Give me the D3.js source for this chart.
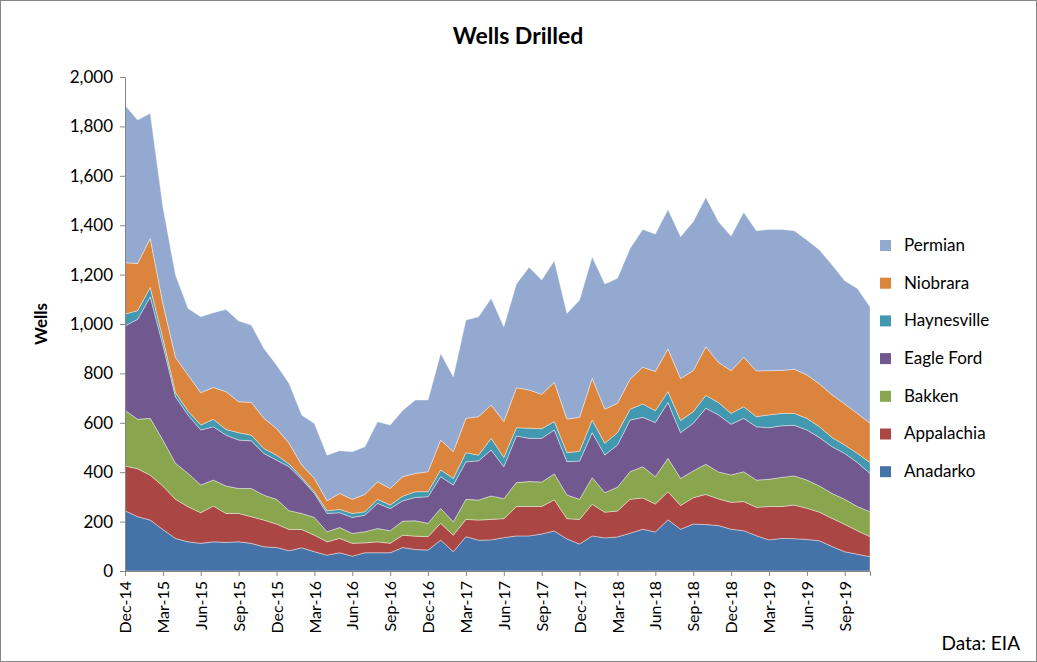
<!DOCTYPE html>
<html>
<head>
<meta charset="utf-8">
<script src="https://cdn.jsdelivr.net/npm/d3@7"></script>
<style>
  body { margin: 0; background: #fff; }
  text { font-family: Lato, "Open Sans", sans-serif; fill: #000; }
</style>
</head>
<body>
<div id="chart"></div>
<script>
'use strict';

// monthly, Dec-14 .. Nov-19
var months = [];
(function() {
  var names = ['Jan','Feb','Mar','Apr','May','Jun','Jul','Aug','Sep','Oct','Nov','Dec'];
  for (var i = 0; i < 60; i++) {
    var m = (11 + i) % 12, yr = 14 + Math.floor((11 + i) / 12);
    months.push(names[m] + '-' + yr);
  }
})();

var regions = ['Anadarko', 'Appalachia', 'Bakken', 'Eagle Ford', 'Haynesville', 'Niobrara', 'Permian'];
var colors = ['#4572A7', '#AA4643', '#89A54E', '#71588F', '#4198AF', '#DB843D', '#93A9CF'];

var anadarko = [244,220,206,168,132,118,112,118,116,118,112,98,95,82,94,78,64,74,60,74,74,74,95,87,85,125,78,139,125,
  126,135,142,142,150,162,130,109,142,134,138,153,169,158,207,169,190,188,184,169,163,143,126,132,131,128,122,99,78,68,58];
var appalachia = [181,194,182,176,158,142,124,145,117,115,108,108,95,86,74,67,54,58,52,40,44,38,50,54,54,68,67,70,81,
  83,77,119,119,111,126,82,100,128,104,105,137,127,113,114,96,107,122,108,109,118,115,135,129,136,126,116,114,111,95,81];
var bakken = [226,200,230,186,146,135,112,105,111,101,114,101,100,76,65,72,41,44,40,45,54,51,57,62,54,60,54,81,81,
  95,81,97,101,99,105,96,81,108,79,96,112,126,111,135,110,108,122,109,111,121,110,110,118,118,114,106,101,101,98,101];
var eagleFord = [341,405,492,385,269,236,223,216,206,196,193,169,159,178,138,97,74,60,65,67,102,90,82,95,108,129,149,152,159,
  186,129,189,175,177,178,135,155,182,153,171,209,200,219,226,185,193,227,231,205,216,216,209,209,205,203,196,189,186,178,155];
var haynesville = [48,35,38,27,17,16,20,30,23,30,23,20,20,11,8,7,11,13,16,14,16,14,19,23,20,27,27,37,23,
  47,38,33,41,39,34,36,40,51,47,50,44,54,48,44,49,47,52,50,44,47,41,52,50,48,47,44,37,34,37,44];
var niobrara = [208,191,198,141,143,146,131,129,153,125,133,122,108,84,50,54,40,65,57,70,71,67,79,74,81,121,108,139,156,
  135,145,162,155,139,159,136,137,169,138,119,121,149,159,173,170,166,197,162,173,200,185,179,174,179,176,173,173,166,162,159];
var permian = [638,581,507,392,333,270,307,303,333,327,313,283,257,242,202,222,185,173,193,193,243,257,269,297,290,351,303,398,404,
  432,384,420,497,463,492,428,475,492,507,506,530,558,556,565,574,603,605,570,545,587,568,572,571,561,546,543,526,499,506,472];

var yTicks = [0, 200, 400, 600, 800, 1000, 1200, 1400, 1600, 1800, 2000];

(function() {
  var series = [anadarko, appalachia, bakken, eagleFord, haynesville, niobrara, permian];
  var table = months.map(function(m, i) {
    var row = { month: m, i: i };
    regions.forEach(function(r, k) { row[r] = series[k][i]; });
    return row;
  });

  var W = 1037, H = 662;
  var left = 125, right = 870, plotTop = 77, bottom = 571;

  var svg = d3.select('#chart').append('svg').attr('width', W).attr('height', H);
  svg.append('rect').attr('x', 0.5).attr('y', 0.5).attr('width', W - 1).attr('height', H - 1)
    .style('fill', '#fff').style('stroke', '#868686');

  var x = d3.scaleLinear().domain([0, months.length - 1]).range([left, right]);
  var y = d3.scaleLinear().domain([0, 2000]).range([bottom, plotTop]);

  var stacked = d3.stack().keys(regions)(table);
  var area = d3.area()
    .x(function(d) { return x(d.data.i); })
    .y0(function(d) { return y(d[0]); })
    .y1(function(d) { return y(d[1]); });

  svg.selectAll('path.layer').data(stacked).enter().append('path')
    .attr('class', 'layer')
    .attr('d', area)
    .style('fill', function(d, k) { return colors[k]; })
    .style('stroke', '#fff').style('stroke-width', 0.4);

  // y axis
  var yAxis = svg.append('g').attr('transform', 'translate(' + left + ',0)')
    .call(d3.axisLeft(y).tickValues(yTicks).tickSize(5).tickFormat(d3.format(',')));
  yAxis.select('.domain').style('stroke', '#868686');
  yAxis.selectAll('line').style('stroke', '#868686');
  yAxis.selectAll('text').style('font-size', '17px').attr('dx', '-4px');

  // x axis, every 3rd month
  var xTickIdx = d3.range(0, months.length, 3);
  var xAxis = svg.append('g').attr('transform', 'translate(0,' + bottom + ')')
    .call(d3.axisBottom(x).tickValues(xTickIdx).tickSize(5).tickFormat(function(i) { return months[i]; }));
  xAxis.select('.domain').style('stroke', '#868686');
  xAxis.selectAll('line').style('stroke', '#868686');
  xAxis.selectAll('text').style('font-size', '16px')
    .attr('transform', 'rotate(-90)').attr('text-anchor', 'end')
    .attr('x', -10).attr('y', 0).attr('dy', '0.35em');

  svg.append('text').attr('x', 518).attr('y', 44).attr('text-anchor', 'middle')
    .style('font-size', '23px').style('font-weight', 'bold').text('Wells Drilled');

  svg.append('text').attr('transform', 'translate(47,324) rotate(-90)').attr('text-anchor', 'middle')
    .style('font-size', '17px').style('font-weight', 'bold').text('Wells');

  var legend = svg.append('g');
  regions.slice().reverse().forEach(function(r, j) {
    var k = regions.indexOf(r);
    var gy = 245 + j * 37.7;
    legend.append('rect').attr('x', 880).attr('y', gy - 5).attr('width', 11).attr('height', 11).style('fill', colors[k]);
    legend.append('text').attr('x', 904).attr('y', gy).attr('dy', '0.35em').style('font-size', '17px').text(r);
  });

  svg.append('text').attr('x', 1020).attr('y', 650).attr('text-anchor', 'end')
    .style('font-size', '19px').text('Data: EIA');
})();
</script>
</body>
</html>
